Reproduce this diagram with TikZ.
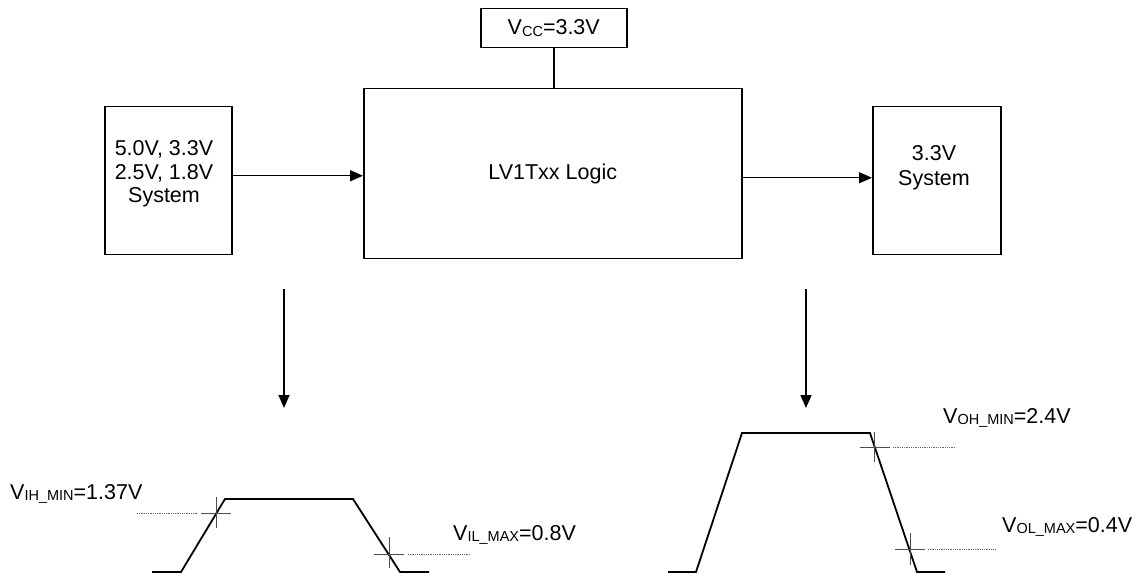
\documentclass[tikz,border=0pt]{standalone}
\usepackage{fontspec}
\setmainfont{Liberation Sans}
\usetikzlibrary{arrows.meta}
\newcommand\lowsub[1]{\raisebox{-1.5pt}{\fontsize{14.5}{15}\selectfont #1}}
\begin{document}
\begin{tikzpicture}[x=1pt,y=-1pt,
  box/.style={draw, line width=1.5pt, inner sep=0pt, font=\fontsize{21.5}{25}\selectfont},
  txt/.style={inner sep=0pt, font=\fontsize{21.5}{23.5}\selectfont, align=center},
  conn/.style={line width=1.5pt, -{Triangle[length=13pt,width=11pt]}},
  wire/.style={line width=1.5pt},
  wave/.style={line width=1.8pt, line join=miter},
  tick/.style={line width=0.8pt, black!70},
  level/.style={line width=0.8pt, densely dotted, black!60},
  lab/.style={inner sep=0pt, anchor=base west, font=\fontsize{21.5}{25}\selectfont}]
\useasboundingbox (0,0) rectangle (1138,580);

% boxes
\node[box, minimum width=146pt, minimum height=39pt, anchor=north west] (vcc) at (480,8) {V\lowsub{CC}=3.3V};
\node[box, minimum width=378pt, minimum height=170pt, anchor=north west] (main) at (363,88) {LV1Txx Logic};
\node[box, minimum width=127pt, minimum height=148pt, anchor=north west] (lbox) at (104,106) {};
\node[box, minimum width=128pt, minimum height=148pt, anchor=north west] (rbox) at (872,106) {};
\node[txt] (ltext) at (164,174) {5.0V, 3.3V\\2.5V, 1.8V\\System};
\node[txt, font=\fontsize{21.5}{25}\selectfont] (rtext) at (934,168) {3.3V\\System};

% connectors
\draw[wire] (vcc.south) -- (vcc.south |- main.north);
\coordinate (la) at ([yshift=5pt]lbox.east);
\coordinate (ra) at ([yshift=3pt]rbox.west);
\draw[conn] (la) -- (la -| main.west);
\draw[conn] (main.east |- ra) -- (ra);

\coordinate (d1s) at (284,289);
\coordinate (d1e) at (284,408);
\coordinate (d2s) at (806,289);
\coordinate (d2e) at (806,408);
\draw[conn] (d1s) -- (d1e);
\draw[conn] (d2s) -- (d2e);

% left waveform
\draw[wave] (152,572) -- (181,572) -- (225,499) -- (353,499) -- (400,572) -- (429,572);
\draw[tick] (201,513) -- (231,513) (216,497) -- (216,528);
\draw[tick] (374,554) -- (404,554) (389,537) -- (389,568);
\draw[level] (137,513) -- (198,513);
\draw[level] (408,554) -- (470,554);
\node[lab] (vih) at (10,499) {V\lowsub{IH\_MIN}=1.37V};
\node[lab] (vil) at (453,540) {V\lowsub{IL\_MAX}=0.8V};

% right waveform
\draw[wave] (668,572) -- (696,572) -- (742,433) -- (870,433) -- (917,572) -- (945,572);
\draw[tick] (860,447) -- (890,447) (874,432) -- (874,462);
\draw[tick] (895,549) -- (925,549) (910,533) -- (910,565);
\draw[level] (893,447) -- (955,447);
\draw[level] (928,549) -- (995,549);
\node[lab] (voh) at (943,423) {V\lowsub{OH\_MIN}=2.4V};
\node[lab] (vol) at (1002,532) {V\lowsub{OL\_MAX}=0.4V};
\end{tikzpicture}
\end{document}
